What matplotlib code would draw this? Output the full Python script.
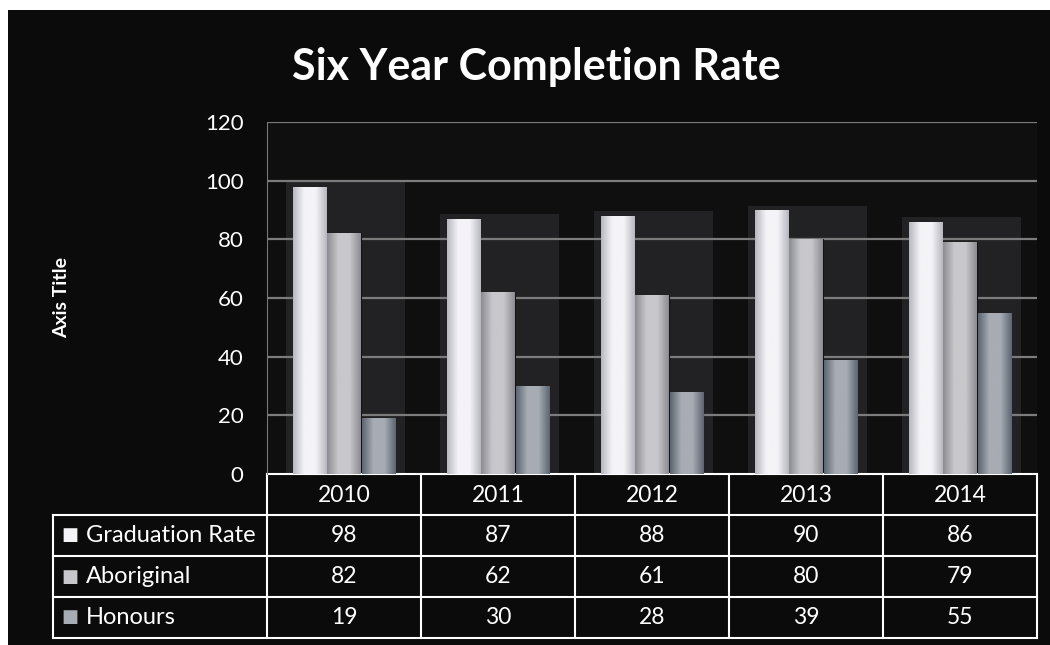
import numpy as np
import matplotlib
matplotlib.use("Agg")
import matplotlib.pyplot as plt
from matplotlib.patches import Rectangle
from matplotlib.transforms import blended_transform_factory

years = ['2010', '2011', '2012', '2013', '2014']
series = ['Graduation Rate', 'Aboriginal', 'Honours']
graduation = [98, 87, 88, 90, 86]
aboriginal = [82, 62, 61, 80, 79]
honours = [19, 30, 28, 39, 55]
values = [graduation, aboriginal, honours]

plt.rcParams['font.family'] = ['Lato', 'DejaVu Sans']

# colours for each series (light, dark) used for gradient fill
bar_cols = [('#f4f4f8', '#b8b8c0'), ('#c8c8cc', '#8c8c92'), ('#a8acb4', '#5c6672')]

fig = plt.figure(figsize=(10.5, 6.45), dpi=100, facecolor='white')
# black panel
fig.patches.append(Rectangle((8 / 1050, 0), 1, 1 - 10 / 645, transform=fig.transFigure,
                             facecolor='#0b0b0b', edgecolor='none', zorder=-5))

ax = fig.add_axes([267 / 1050, 1 - 474 / 645, 770 / 1050, 352 / 645])
ax.set_facecolor('#0f0f0f')
x = np.arange(len(years))
w = 0.225

# back wall shading behind each group
group_max = np.max(values, axis=0)
ax.bar(x + 0.01, group_max + 1.5, width=3 * w + 0.1, color='#222224', zorder=0.5)

ax.set_axisbelow(False)
for yv in range(20, 121, 20):
    ax.axhline(yv, color='#7c7c7c', lw=1.6, zorder=1)

for i, vals in enumerate(values):
    bars = ax.bar(x + (i - 1) * w, vals, width=w * 0.97, color=bar_cols[i][0],
                  edgecolor='#101418', linewidth=0.8, zorder=2)
    light, dark = bar_cols[i]
    cmap = matplotlib.colors.LinearSegmentedColormap.from_list('g', [dark, light, light, dark])
    grad = np.linspace(0, 1, 64)[None, :]
    for b in bars:
        x0, y0 = b.get_x(), b.get_y()
        im = ax.imshow(grad, extent=[x0, x0 + b.get_width(), y0, y0 + b.get_height()],
                       cmap=cmap, aspect='auto', zorder=2.1, interpolation='bicubic')
        im.set_clip_path(b)

ax.set_xlim(-0.5, 4.5)
ax.set_ylim(0, 120)
ax.set_yticks(range(0, 121, 20))
ax.tick_params(axis='y', colors='white', labelsize=16, length=0, pad=17)
ax.set_xticks([])
for s in ['top', 'right', 'bottom']:
    ax.spines[s].set_visible(False)
ax.spines['left'].set_color('#777777')
ax.set_ylabel('Axis Title', color='white', fontsize=14, fontweight='bold')
ax.yaxis.set_label_coords(-0.256, 0.5)

ax.set_title('Six Year Completion Rate', color='white', fontsize=31, fontweight='bold',
             pad=30, x=0.35)

# data table below the plot
tr = blended_transform_factory(ax.transData, fig.transFigure)
def fy(py):
    return 1 - py / 645

left = -0.5 - (267 - 53) / 154.0
line_kw = dict(color='white', lw=1.5, transform=tr, clip_on=False)
rows_py = [474, 515, 556, 597, 638]
# horizontal lines
ax.plot([-0.5, 4.5], [fy(474)] * 2, **line_kw)
for py in rows_py[1:]:
    ax.plot([left, 4.5], [fy(py)] * 2, **line_kw)
# vertical lines
for xv in np.arange(-0.5, 5.0, 1.0):
    ax.plot([xv, xv], [fy(474), fy(638)], **line_kw)
ax.plot([left, left], [fy(515), fy(638)], **line_kw)

for j, yr in enumerate(years):
    ax.text(j, fy(495), yr, transform=tr, ha='center', va='center', color='white', fontsize=16.5)
for i, name in enumerate(series):
    cy = fy((rows_py[i + 1] + rows_py[i + 2]) / 2)
    ax.text(left + 0.055, cy, '\u25A0', transform=tr, ha='left', va='center',
            color=bar_cols[i][0], fontsize=13, family='DejaVu Sans')
    ax.text(left + 0.215, cy, name, transform=tr, ha='left', va='center', color='white', fontsize=17)
    for j, v in enumerate(values[i]):
        ax.text(j, cy, str(v), transform=tr, ha='center', va='center', color='white', fontsize=16.5)

fig.savefig('out.png', dpi=100, facecolor=fig.get_facecolor())
